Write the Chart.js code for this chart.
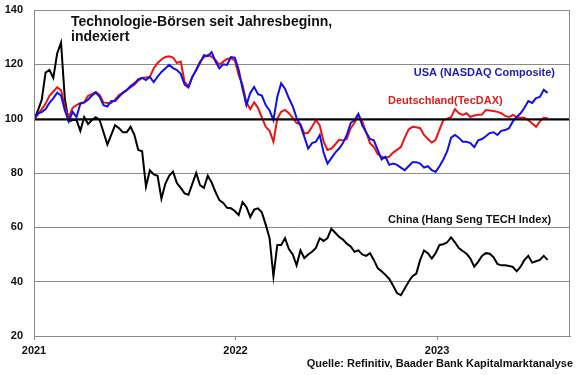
<!DOCTYPE html>
<html lang="de">
<head>
<meta charset="utf-8">
<script src="https://cdn.jsdelivr.net/npm/chart.js@4.4.0/dist/chart.umd.min.js"></script>
<style>
  html, body { margin: 0; padding: 0; background: #fff; }
</style>
</head>
<body>
<canvas id="chart" width="580" height="375"></canvas>
<script>
// Technologie-Börsen, Wochenwerte ab Jahresbeginn 2021 (Index = 100)
const startJahr = 2021;
const jahre = [2021, 2022, 2023];
const yTicks = [20, 40, 60, 80, 100, 120, 140];

const usa = [100, 102, 102.4, 103.5, 105.8, 107.5, 109.6, 108.5, 103, 99,
    102.5, 100.6, 105.5, 106, 107, 108.5, 109.6, 108, 105, 104.5,
    106.5, 106.5, 108, 109.5, 110.5, 112, 113, 114.5, 115, 114.2,
    115.4, 113.5, 115.5, 117.2, 118.5, 119.8, 118.6, 117.9, 116.5, 112.5,
    111.5, 115.4, 117.9, 120.6, 123.4, 123, 124.5, 121, 118.5, 120,
    119.8, 122.7, 122.5, 118, 111, 105, 109.5, 111.7, 109, 108.5,
    105, 103, 99.5, 108, 113, 111, 107.5, 104.5, 100.3, 97.5,
    93.3, 89, 91, 91.5, 94, 87.5, 83.5, 85.5, 87.5, 89,
    91, 94, 98.4, 99.5, 101.8, 97.5, 95, 92.5, 92, 88.5,
    85, 86, 83, 83.5, 83, 82, 81, 82.5, 84, 84,
    83.5, 82, 82.5, 81, 80.4, 82.5, 85, 88, 93, 94,
    93, 91.5, 91.5, 91, 89.5, 92, 92.5, 93.5, 94.7, 95,
    94, 95.5, 95.8, 96.5, 99, 100.6, 102, 104, 106.5, 105.8,
    107.6, 108, 110.6, 109.5];

const deutschland = [99.5, 101.5, 103.5, 105.5, 108.4, 110, 111.5, 110.5, 104.3, 100.5,
    104, 105, 105.8, 106, 108.4, 109, 109.8, 108.7, 106, 105.8,
    105.8, 107, 108.7, 109.5, 110.5, 111.5, 112.5, 114, 115, 115.2,
    115.4, 118.5, 120.5, 121.8, 122.7, 123, 122.5, 120.5, 121, 113.5,
    112, 115.4, 117.9, 121, 122.6, 123.4, 122.8, 121.6, 119.8, 121,
    122, 122.3, 121.5, 116, 112.5, 106, 103.5, 106, 104, 100.5,
    97, 95.5, 91.5, 100, 102.5, 103.2, 102, 100.3, 98.4, 98,
    94.5, 94.8, 97, 99.5, 97.5, 91.5, 88.5, 89, 90.5, 92.2,
    92, 92.5, 96.5, 98.5, 101.4, 99, 95, 91, 89.6, 87,
    86, 85.5, 86, 87.5, 88.5, 89.5, 93, 96, 97, 96.8,
    96.5, 94, 92.5, 91.2, 92.2, 96, 99.5, 100, 100.5, 103.5,
    102, 101.4, 102, 100.6, 101.2, 101.4, 101.5, 103.2, 103, 102.8,
    102.5, 102, 101, 100.6, 101.4, 100.6, 100.3, 100.3, 99.5, 98.2,
    97, 99, 100.3, 100.2];

const china = [99.5, 103, 106.9, 117, 117.9, 115, 124, 128, 107, 99,
    99.5, 99.5, 95.5, 100.6, 98, 99.5, 100.5, 99.5, 95, 90.5,
    94, 97.6, 96.5, 95, 95, 97, 94, 88.5, 88, 75,
    81, 79.5, 79, 70.5, 76, 79, 80.5, 76.3, 74.5, 72.5,
    72, 76, 80, 75.5, 74.5, 79, 76.5, 73, 70, 69,
    67.2, 67, 66, 64.5, 69.3, 67.5, 63.8, 66.5, 67, 65.5,
    61, 56, 42, 53.5, 53.5, 56, 52, 50, 46, 51.5,
    48.7, 50, 51, 52.4, 56, 55, 56, 59.5, 58, 56.5,
    55.5, 54, 53, 51, 51.5, 50, 49.5, 50.5, 48, 45,
    43.8, 42.5, 41, 38.5, 35.8, 35, 37.5, 40, 42, 43,
    48, 51.5, 50.5, 48.5, 50.5, 53.5, 53.8, 54.5, 56.3, 54.5,
    52.4, 51.3, 50.3, 48.5, 45.5, 47.3, 49.5, 50.5, 50.3, 49,
    46.5, 46, 46, 45.8, 45.4, 43.8, 45.5, 48, 49.5, 47,
    47.5, 48, 49.5, 48];

// x als Jahresbruchteil (eine Woche = 7 Tage)
const wochen = usa.map((_, i) => startJahr + i * 7 / 365.25);

const schrift = '"Liberation Sans", Arial, sans-serif';

function punkte(werte) {
    return werte.map((v, i) => ({ x: wochen[i], y: v }));
}

const texte = {
    id: 'texte',
    afterDatasetsDraw(chart) {
        const { ctx, chartArea: a, scales: { y } } = chart;
        ctx.save();

        // Linie bei 100
        const y100 = Math.round(y.getPixelForValue(100)) + 0.5;
        ctx.strokeStyle = '#000';
        ctx.lineWidth = 2;
        ctx.beginPath();
        ctx.moveTo(a.left, y100);
        ctx.lineTo(a.right, y100);
        ctx.stroke();

        // Rahmen
        ctx.strokeStyle = '#8a8a8a';
        ctx.lineWidth = 1;
        ctx.strokeRect(a.left + 0.5, a.top + 0.5, a.right - a.left - 1, a.bottom - a.top);

        ctx.textBaseline = 'alphabetic';
        ctx.fillStyle = '#111';
        ctx.font = 'bold 14px ' + schrift;
        ctx.textAlign = 'left';
        ctx.fillText('Technologie-Börsen seit Jahresbeginn,', 71, 26);
        ctx.fillText('indexiert', 71, 41);

        ctx.font = 'bold 11px ' + schrift;
        ctx.fillStyle = '#1e1eb4';
        ctx.textAlign = 'right';
        ctx.fillText('USA (NASDAQ Composite)', 555, 76);

        ctx.fillStyle = '#e01c1c';
        ctx.textAlign = 'left';
        ctx.fillText('Deutschland(TecDAX)', 388, 104);

        ctx.fillStyle = '#111';
        ctx.fillText('China (Hang Seng TECH Index)', 388, 223);

        ctx.textAlign = 'right';
        ctx.fillText('Quelle: Refinitiv, Baader Bank Kapitalmarktanalyse', 573, 367);
        ctx.restore();
    }
};

const ctx = document.getElementById('chart').getContext('2d');

const myChart = new Chart(ctx, {
    type: 'line',
    data: {
        datasets: [
            { label: 'USA (NASDAQ Composite)', data: punkte(usa), borderColor: '#1010ee' },
            { label: 'Deutschland (TecDAX)', data: punkte(deutschland), borderColor: '#ee1414' },
            { label: 'China (Hang Seng TECH Index)', data: punkte(china), borderColor: '#000000' }
        ]
    },
    options: {
        responsive: false,
        animation: false,
        devicePixelRatio: 1,
        layout: { padding: { top: 10, right: 10, left: 0, bottom: 0 } },
        elements: {
            line: { borderWidth: 2, tension: 0 },
            point: { radius: 0 }
        },
        plugins: {
            legend: { display: false },
            tooltip: { enabled: false }
        },
        scales: {
            x: {
                type: 'linear',
                min: 2021,
                max: 2023.66,
                afterBuildTicks: s => { s.ticks = jahre.map(v => ({ value: v })); },
                afterFit: s => { s.height = 39; },
                ticks: {
                    callback: v => String(v),
                    color: '#111',
                    font: { family: schrift, size: 11, weight: 'bold' },
                    padding: 4,
                    maxRotation: 0,
                    autoSkip: false
                },
                grid: { drawOnChartArea: false, tickLength: 4, color: '#8a8a8a' },
                border: { color: '#8a8a8a' }
            },
            y: {
                min: 20,
                max: 140,
                afterBuildTicks: s => { s.ticks = yTicks.map(v => ({ value: v })); },
                afterFit: s => {
                    s.width = 34;
                    s.paddingTop = 0;
                    s.paddingBottom = 0;
                },
                ticks: {
                    color: '#111',
                    font: { family: schrift, size: 11, weight: 'bold' },
                    padding: 11
                },
                grid: { drawTicks: false, color: '#8a8a8a' },
                border: { color: '#8a8a8a' }
            }
        }
    },
    plugins: [texte]
});
</script>
</body>
</html>
